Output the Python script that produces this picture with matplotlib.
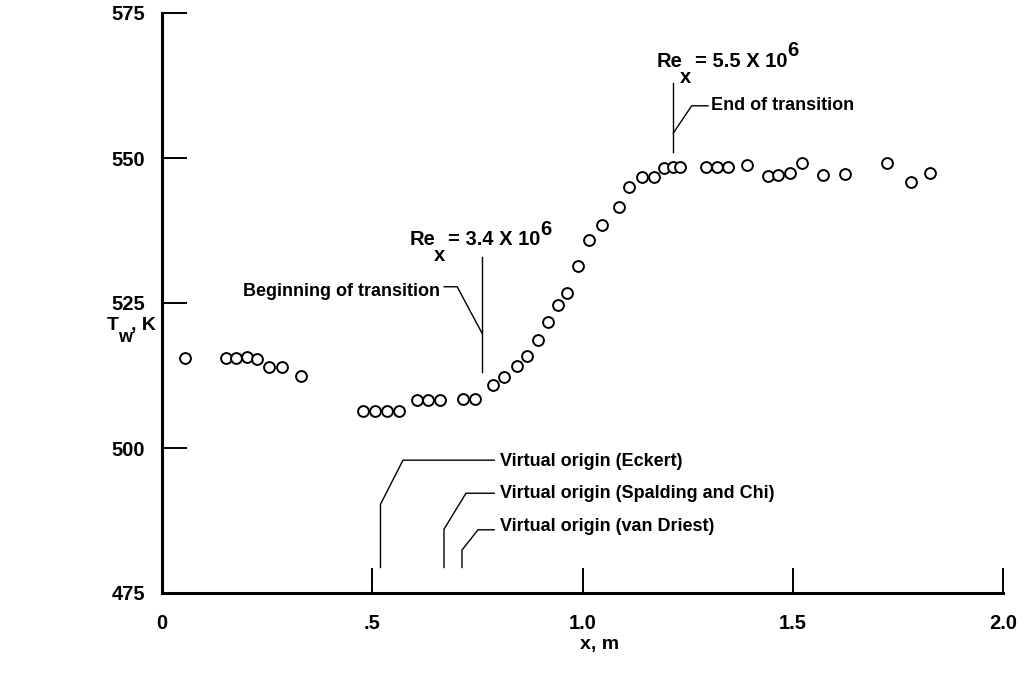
import numpy as np
import matplotlib
matplotlib.use('Agg')
import matplotlib.pyplot as plt

plt.rcParams['font.family'] = ['Liberation Sans Narrow', 'Liberation Sans', 'DejaVu Sans']
plt.rcParams['font.weight'] = 'bold'

# wall temperature along the plate
x_m = [0.055, 0.152, 0.175, 0.201, 0.227, 0.255, 0.285, 0.331,
       0.477, 0.507, 0.534, 0.564, 0.607, 0.632, 0.660, 0.715, 0.744,
       0.786, 0.814, 0.844, 0.867, 0.895, 0.918, 0.942, 0.964, 0.989,
       1.016, 1.046, 1.087, 1.111, 1.142, 1.170, 1.194, 1.215, 1.232,
       1.294, 1.321, 1.347, 1.391, 1.442, 1.466, 1.494, 1.523, 1.571,
       1.624, 1.723, 1.782, 1.826]
tw_k = [515.6, 515.6, 515.6, 515.7, 515.3, 513.9, 513.9, 512.5,
        506.3, 506.4, 506.4, 506.4, 508.3, 508.3, 508.3, 508.4, 508.4,
        510.9, 512.2, 514.1, 515.9, 518.7, 521.7, 524.7, 526.7, 531.3,
        535.9, 538.4, 541.5, 545.0, 546.7, 546.7, 548.2, 548.5, 548.5,
        548.5, 548.5, 548.5, 548.8, 546.9, 547.1, 547.4, 549.1, 547.1,
        547.2, 549.2, 545.9, 547.4]

x_ticks = [0, 0.5, 1.0, 1.5, 2.0]
x_labels = ['0', '.5', '1.0', '1.5', '2.0']
y_ticks = [475, 500, 525, 550, 575]

# virtual origin positions (x, m) and their label heights
vo_names = ['Virtual origin (Eckert)', 'Virtual origin (Spalding and Chi)',
            'Virtual origin (van Driest)']
vo_x = [0.5196, 0.6706, 0.7134]
vo_top = [490.3, 486.0, 482.4]
vo_knee = [(0.5731, 497.9), (0.7229, 492.2), (0.7515, 485.9)]
vo_text_y = [497.6, 492.1, 486.4]

re_begin_x = 0.761
re_end_x = 1.216

fig = plt.figure(figsize=(10.28, 6.73), dpi=100)
ax = fig.add_axes([162 / 1028, 80 / 673, 841 / 1028, 580 / 673])

ax.plot(x_m, tw_k, 'o', ms=7.8, mfc='white', mec='black', mew=1.4, clip_on=False)

ax.set_xlim(0, 2.0)
ax.set_ylim(475, 575)
for s in ['top', 'right']:
    ax.spines[s].set_visible(False)
for s in ['left', 'bottom']:
    ax.spines[s].set_linewidth(2.2)
ax.set_xticks(x_ticks)
ax.set_xticklabels(x_labels)
ax.set_yticks(y_ticks)
ax.tick_params(direction='in', length=18, width=1.4, labelsize=14.5, pad=12)
ax.tick_params(axis='x', pad=15)

lw = 1.0
fs = 13
# virtual origins
for name, vx, vt, kn, ty in zip(vo_names, vo_x, vo_top, vo_knee, vo_text_y):
    ax.plot([vx, vx, kn[0], 0.79], [479.4, vt, kn[1], kn[1]], color='black', lw=lw)
    ax.text(0.804, ty, name, fontsize=fs, va='center', ha='left')

# beginning of transition
ax.plot([re_begin_x, re_begin_x], [513.1, 532.9], color='black', lw=lw)
ax.plot([0.671, 0.702, re_begin_x], [527.8, 527.8, 519.8], color='black', lw=lw)
ax.text(0.661, 527.0, 'Beginning of transition', fontsize=fs, va='center', ha='right')
ax.text(0.590, 535.0, 'Re', fontsize=14.5, va='baseline')
ax.text(0.647, 532.2, 'x', fontsize=14.5, va='baseline')
ax.text(0.680, 535.0, '= 3.4 X 10', fontsize=14.5, va='baseline')
ax.text(0.900, 536.8, '6', fontsize=14.5, va='baseline')

# end of transition
ax.plot([re_end_x, re_end_x], [551.1, 562.9], color='black', lw=lw)
ax.plot([1.2985, 1.2597, re_end_x], [559.0, 559.0, 554.3], color='black', lw=lw)
ax.text(1.3056, 559.0, 'End of transition', fontsize=fs, va='center', ha='left')
ax.text(1.177, 565.7, 'Re', fontsize=14.5, va='baseline')
ax.text(1.232, 563.0, 'x', fontsize=14.5, va='baseline')
ax.text(1.267, 565.7, '= 5.5 X 10', fontsize=14.5, va='baseline')
ax.text(1.486, 567.6, '6', fontsize=14.5, va='baseline')

# axis titles
fig.text(107 / 1028, 1 - 325 / 673, 'T', fontsize=14, va='center', ha='left')
fig.text(118 / 1028, 1 - 338 / 673, 'w', fontsize=13, va='center', ha='left')
fig.text(131 / 1028, 1 - 325 / 673, ', K', fontsize=14, va='center', ha='left')
fig.text(600 / 1028, 1 - 644 / 673, 'x, m', fontsize=14, va='center', ha='center')

fig.savefig('out.png', dpi=100)
